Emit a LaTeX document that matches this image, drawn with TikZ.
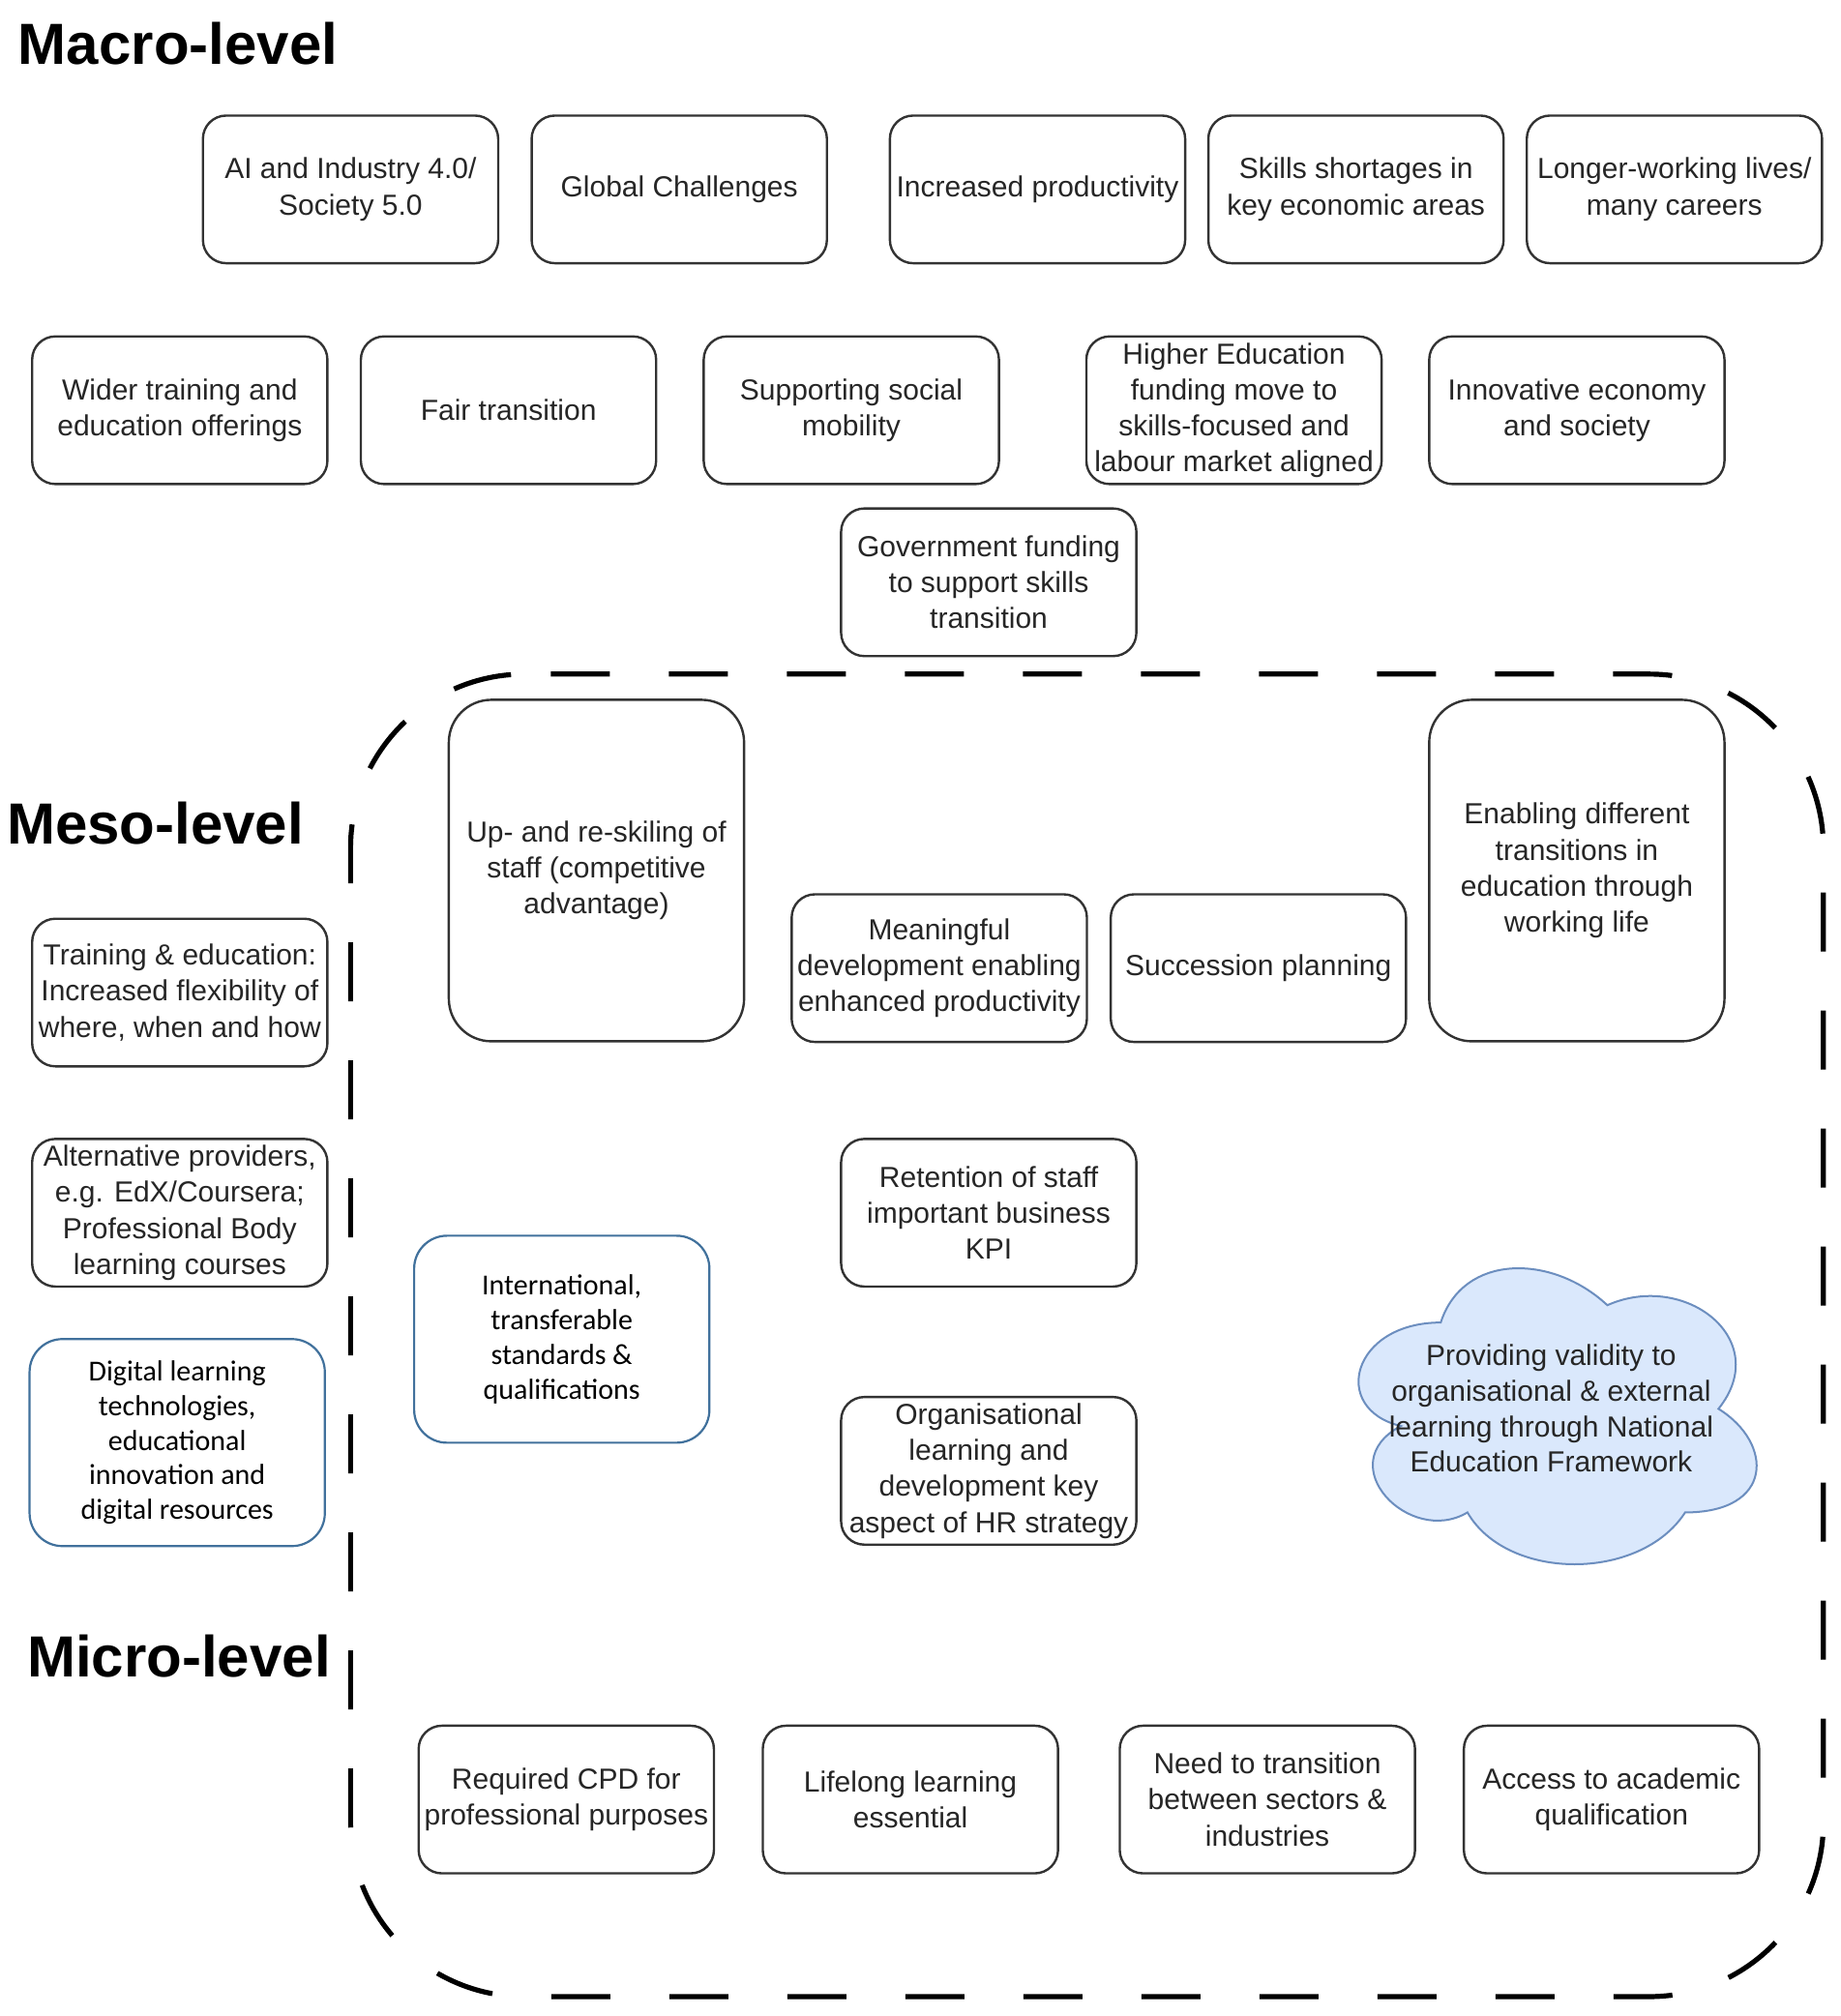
\documentclass[tikz,border=0pt]{standalone}
\usepackage{fontspec}
\setmainfont{Liberation Sans}
\newfontfamily\carlito{Carlito}
\definecolor{boxline}{HTML}{333333}
\definecolor{txt}{HTML}{262626}
\definecolor{blueline}{HTML}{41719C}
\definecolor{cloudfill}{HTML}{DAE8FC}
\definecolor{cloudline}{HTML}{6C8EBF}
\tikzset{
  box/.style={draw=boxline, line width=1.2pt, rounded corners=12pt, align=center,
    inner sep=0pt, minimum width=152.6pt, minimum height=76.3pt, text=txt,
    font=\fontsize{15}{18.6}\selectfont},
  tallbox/.style={box, minimum height=176.5pt, rounded corners=22pt},
  bluebox/.style={draw=blueline, line width=1.1pt, rounded corners=17pt, align=center,
    inner sep=0pt, minimum width=152.6pt, minimum height=107pt, text=black,
    font=\carlito\fontsize{15}{17.9}\selectfont},
  levellabel/.style={anchor=base west, inner sep=0pt, font=\bfseries\fontsize{30}{36}\selectfont},
  borderline/.style={draw=black, line width=2.6pt, dash pattern=on 30.5pt off 30.5pt, rounded corners=90pt},
  cloudshape/.style={draw=cloudline, fill=cloudfill, line width=1pt},
  cloudtext/.style={align=center, inner sep=0pt, text=txt, font=\fontsize{15}{18.3}\selectfont},
}
\begin{document}
\begin{tikzpicture}[x=0.66365pt, y=-0.66365pt]
\useasboundingbox (0,0) rectangle (1433,1570.1);
\fill[white] (0,0) rectangle (1433,1570.1);

% level labels
\node[levellabel] (macro) at (14,50) {Macro-level};
\node[levellabel] (meso) at (5,657) {Meso-level};
\node[levellabel] (micro) at (21,1306) {Micro-level};

% dashed boundary
\draw[borderline] (429,525) -- (1420,525) -- (1420,1555) -- (273,1555) -- (273,525) -- (429,525);

% macro row 1
\node[box] (ai) at (273,147.5) {AI and Industry 4.0/\\Society 5.0};
\node[box] (global) at (529,147.5) {Global Challenges};
\node[box] (prod) at (808,147.5) {Increased productivity};
\node[box] (skills) at (1056,147.5) {Skills shortages in\\key economic areas};
\node[box] (longer) at (1304,147.5) {Longer-working lives/\\many careers};

% macro row 2
\node[box] (wider) at (140,319.5) {Wider training and\\education offerings};
\node[box] (fair) at (396,319.5) {Fair transition};
\node[box] (social) at (663,319.5) {Supporting social\\mobility};
\node[box] (he) at (961,319.5) {Higher Education\\funding move to\\skills-focused and\\labour market aligned};
\node[box] (innov) at (1228,319.5) {Innovative economy\\and society};

\node[box] (gov) at (770,453.5) {Government funding\\to support skills\\transition};

% meso
\node[tallbox] (up) at (464.5,678) {Up- and re-skiling of\\staff (competitive\\advantage)};
\node[box] (mean) at (731.5,754) {Meaningful\\development enabling\\enhanced productivity};
\node[box] (succ) at (980,754) {Succession planning};
\node[tallbox] (enab) at (1228,678) {Enabling different\\transitions in\\education through\\working life};
\node[box] (train) at (140,773) {Training \& education:\\Increased flexibility of\\where, when and how};
\node[box] (alt) at (140,944.5) {Alternative providers,\\e.g. EdX/Coursera;\\Professional Body\\learning courses};
\node[bluebox] (digital) at (138,1123.5) {Digital learning\\technologies,\\educational\\innovation and\\digital resources};
\node[bluebox] (intl) at (437.5,1043) {International,\\transferable\\standards \&\\qualifications};
\node[box] (ret) at (770,944.5) {Retention of staff\\important business\\KPI};
\node[box] (org) at (770,1145.5) {Organisational\\learning and\\development key\\aspect of HR strategy};

% cloud
\draw[cloudshape] (1122.0,1030.0) .. controls (1052.8,1030.0) and (1035.5,1097.2) .. (1090.9,1110.6)
  .. controls (1035.5,1140.2) and (1097.8,1204.8) .. (1142.8,1177.9)
  .. controls (1173.9,1231.7) and (1277.7,1231.7) .. (1312.3,1177.9)
  .. controls (1381.5,1177.9) and (1381.5,1124.1) .. (1338.3,1097.2)
  .. controls (1381.5,1043.4) and (1312.3,989.6) .. (1251.75,1016.5)
  .. controls (1208.5,976.15) and (1139.3,976.15) .. (1122.0,1030.0) -- cycle;
\node[cloudtext] (valid) at (1208,1097) {Providing validity to\\organisational \& external\\learning through National\\Education Framework};

% micro
\node[box] (cpd) at (441,1401.5) {Required CPD for\\professional purposes};
\node[box] (life) at (709,1401.5) {Lifelong learning\\essential};
\node[box] (need) at (987,1401.5) {Need to transition\\between sectors \&\\industries};
\node[box] (access) at (1255,1401.5) {Access to academic\\qualification};
\end{tikzpicture}
\end{document}
